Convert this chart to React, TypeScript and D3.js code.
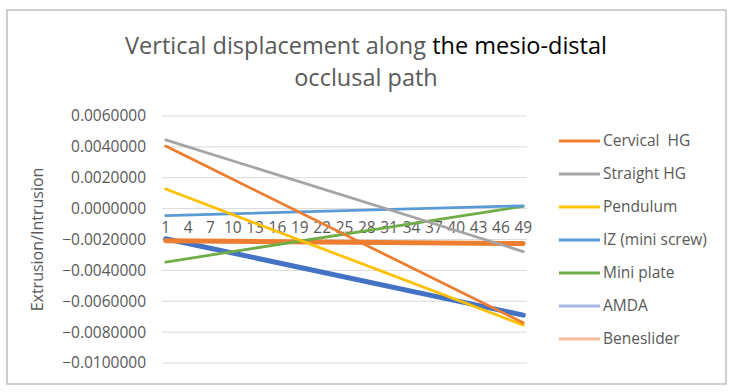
import React from 'react';
import * as d3 from 'd3';

// category positions 1..49, labels on every third one
const categories = d3.range(1, 50);
const xTickLabels = [1, 4, 7, 10, 13, 16, 19, 22, 25, 28, 31, 34, 37, 40, 43, 46, 49];
const yTicks = [0.006, 0.004, 0.002, 0, -0.002, -0.004, -0.006, -0.008, -0.01];

// values read at the first and last point, lines are straight in between
const cervicalHG = [{ x: 1, v: 0.00405 }, { x: 49, v: -0.0074 }];
const straightHG = [{ x: 1, v: 0.00445 }, { x: 49, v: -0.00278 }];
const pendulum = [{ x: 1, v: 0.00127 }, { x: 49, v: -0.00755 }];
const izMiniScrew = [{ x: 1, v: -0.00045 }, { x: 49, v: 0.00018 }];
const miniPlate = [{ x: 1, v: -0.00346 }, { x: 49, v: 0.00015 }];
const amda = [{ x: 1, v: -0.00195 }, { x: 49, v: -0.0069 }];
const beneslider = [{ x: 1, v: -0.00208 }, { x: 49, v: -0.00226 }];

const series = [
  { name: 'Cervical  HG', data: cervicalHG, color: '#ED7D31', key: '#ED7D31', width: 2.8 },
  { name: 'Straight HG', data: straightHG, color: '#A5A5A5', key: '#A5A5A5', width: 2.8 },
  { name: 'Pendulum', data: pendulum, color: '#FFC000', key: '#FFC000', width: 2.8 },
  { name: 'IZ (mini screw)', data: izMiniScrew, color: '#5B9BD5', key: '#5B9BD5', width: 2.8 },
  { name: 'Mini plate', data: miniPlate, color: '#70AD47', key: '#70AD47', width: 2.8 },
  { name: 'AMDA', data: amda, color: '#4472C4', key: '#A9B8E2', width: 5 },
  { name: 'Beneslider', data: beneslider, color: '#ED7D31', key: '#F6B99B', width: 5 },
];

const drawOrder = [5, 6, 4, 3, 2, 1, 0];

const fmt = (v: number) => (v < 0 ? '\u2212' : '') + Math.abs(v).toFixed(7);

const FONT = '"Open Sans", sans-serif';

export default function App() {
  const width = 734;
  const height = 392;
  const plot = { left: 162, right: 527, top: 116, bottom: 363 };

  const x = d3
    .scaleBand<number>()
    .domain(categories)
    .range([plot.left, plot.right]);
  const cx = (c: number) => (x(c) as number) + x.bandwidth() / 2;
  const y = d3.scaleLinear().domain([-0.01, 0.006]).range([plot.bottom, plot.top]);

  const line = d3
    .line<{ x: number; v: number }>()
    .x((d) => cx(d.x))
    .y((d) => y(d.v));

  return (
    <svg
      width={width}
      height={height}
      style={{ position: 'absolute', left: 0, top: 0, background: '#fff' }}
      fontFamily={FONT}
    >
      <rect x={7} y={10} width={719} height={374} fill="#fff" stroke="#BFBFBF" strokeWidth={1.5} />

      <text x={366} y={54} textAnchor="middle" fontSize={23.5} fill="#595959">
        Vertical displacement along <tspan fill="#000">the mesio-distal</tspan>
      </text>
      <text x={366} y={86} textAnchor="middle" fontSize={23.5} fill="#595959">
        occlusal path
      </text>

      {yTicks.map((t) => (
        <g key={t}>
          <line x1={plot.left} x2={plot.right} y1={y(t)} y2={y(t)} stroke="#D9D9D9" strokeWidth={1} />
          <text x={146} y={y(t)} dy="0.35em" textAnchor="end" fontSize={15.5} fill="#595959">
            {fmt(t)}
          </text>
        </g>
      ))}

      {xTickLabels.map((c) => (
        <text key={c} x={cx(c)} y={y(0) + 24} textAnchor="middle" fontSize={15.5} fill="#595959">
          {c}
        </text>
      ))}

      <text
        transform={`translate(37,${(plot.top + plot.bottom) / 2}) rotate(-90)`}
        textAnchor="middle"
        dy="0.35em"
        fontSize={16}
        fill="#595959"
      >
        Extrusion/Intrusion
      </text>

      {drawOrder.map((i) => {
        const s = series[i];
        return (
          <path
            key={s.name}
            d={line(s.data) || ''}
            fill="none"
            stroke={s.color}
            strokeWidth={s.width}
            strokeLinecap="round"
          />
        );
      })}

      {series.map((s, i) => {
        const ly = 141 + i * 33;
        return (
          <g key={s.name}>
            <line x1={559} x2={600} y1={ly} y2={ly} stroke={s.key} strokeWidth={2.8} />
            <text x={603} y={ly} dy="0.35em" fontSize={15.5} fill="#595959" style={{ whiteSpace: 'pre' }}>
              {s.name}
            </text>
          </g>
        );
      })}
    </svg>
  );
}
